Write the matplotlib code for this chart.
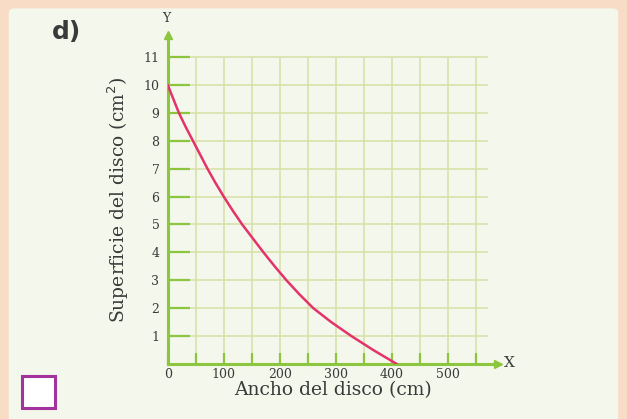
import matplotlib
matplotlib.use("Agg")
import matplotlib.pyplot as plt
from matplotlib.patches import FancyBboxPatch, Rectangle

# values
ancho = [0, 10, 20, 32, 45, 58, 71, 85, 100, 116, 133, 152, 171, 191, 212,
         235, 260, 292, 328, 367, 409]
superficie = [10, 9.5, 9, 8.5, 8, 7.5, 7, 6.5, 6, 5.5, 5, 4.5, 4, 3.5, 3,
              2.5, 2, 1.5, 1, 0.5, 0]

x_major = [0, 100, 200, 300, 400, 500]
x_minor = [50, 150, 250, 350, 450, 550]
x_grid = list(range(50, 600, 50))
y_ticks = list(range(1, 12))

GREEN = "#8cc63f"
GRID = "#d6e0a6"
CURVE = "#e3336a"
TXT = "#3a3a3a"
SERIF = ["DejaVu Serif"]

fig = plt.figure(figsize=(6.27, 4.19), dpi=100)
fig.patch.set_facecolor("#f8dcc6")

# pale page panel, behind everything
fig.patches.append(FancyBboxPatch((0.014, -0.05), 0.972, 1.03,
                                  boxstyle="round,pad=0,rounding_size=0.01",
                                  transform=fig.transFigure, zorder=-10,
                                  facecolor="#f4f7eb", edgecolor="none"))

ax = fig.add_axes([0.2675, 0.1313, 0.527, 0.7857])
ax.set_facecolor("none")
ax.set_xlim(0, 590)
ax.set_ylim(0, 11.8)

# grid
ax.hlines(y_ticks, 0, 572, color=GRID, lw=1.1, zorder=1)
ax.vlines(x_grid, 0, 11, color=GRID, lw=1.1, zorder=1)

ax.plot(ancho, superficie, color=CURVE, lw=1.8, zorder=3,
        solid_joinstyle="round", solid_capstyle="round")

for s in ["top", "right"]:
    ax.spines[s].set_visible(False)
for s in ["left", "bottom"]:
    ax.spines[s].set_color(GREEN)
    ax.spines[s].set_linewidth(2.2)
ax.plot([1], [0], ">", color=GREEN, ms=6, transform=ax.transAxes, clip_on=False)
ax.plot([0], [1], "^", color=GREEN, ms=6, transform=ax.transAxes, clip_on=False)

ax.set_xticks(x_major)
ax.set_xticks(x_minor, minor=True)
ax.set_yticks(y_ticks)
ax.tick_params(axis="y", direction="in", length=16, width=1.6, color=GREEN,
               pad=6, labelsize=9, labelcolor=TXT)
ax.tick_params(axis="x", which="both", direction="in", length=8, width=1.6,
               color=GREEN, pad=3, labelsize=9, labelcolor=TXT)
for lab in ax.get_xticklabels() + ax.get_yticklabels():
    lab.set_family(SERIF)

ax.set_xlabel("Ancho del disco (cm)", family=SERIF, fontsize=13.5,
              color=TXT, labelpad=0)
ax.set_ylabel("Superficie del disco (cm$^2$)", family=SERIF, fontsize=13.5,
              color=TXT, labelpad=9)

fig.text(504 / 627, 1 - 363 / 419, "X", family=SERIF, fontsize=11,
         color=TXT, va="center", ha="left")
fig.text(166 / 627, 1 - 18 / 419, "Y", family=SERIF, fontsize=9,
         color=TXT, va="center", ha="center")
fig.text(52 / 627, 1 - 32 / 419, "d)", fontsize=18, fontweight="bold",
         color=TXT, va="center", ha="left")

fig.patches.append(Rectangle((22 / 627, 1 - 408 / 419), 33 / 627, 32 / 419,
                             transform=fig.transFigure, facecolor="white",
                             edgecolor="#a3339c", lw=2.2))

fig.savefig("out.png", dpi=100, facecolor=fig.get_facecolor())
